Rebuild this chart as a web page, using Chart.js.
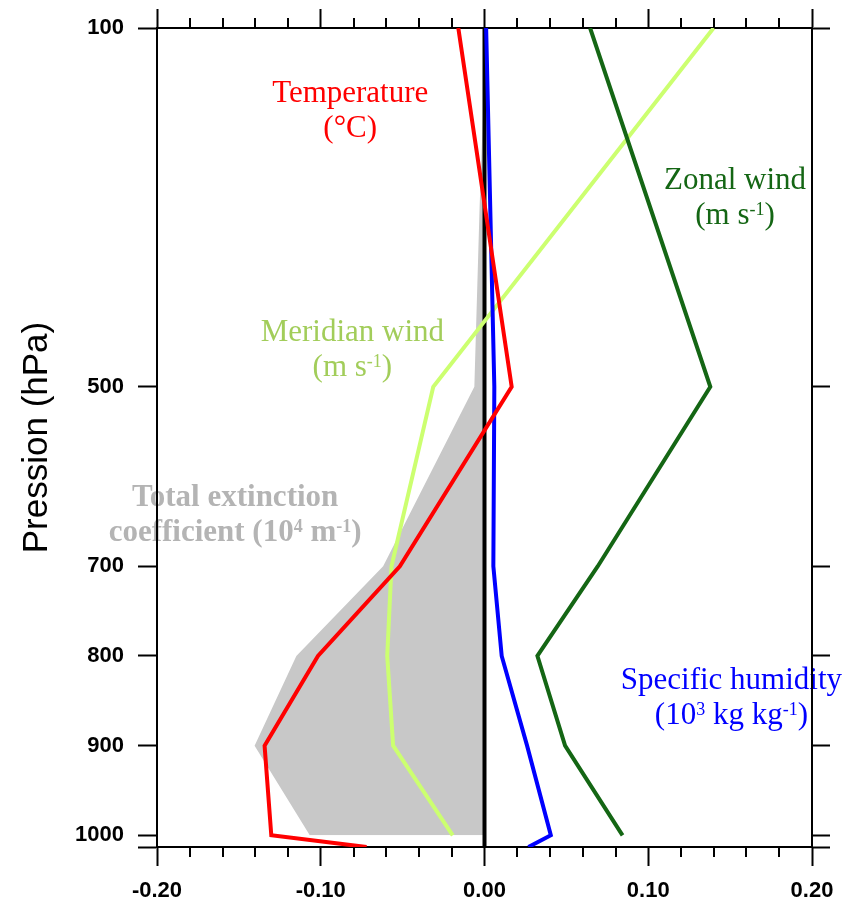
<!DOCTYPE html>
<html>
<head>
<meta charset="utf-8">
<script src="https://cdn.jsdelivr.net/npm/chart.js@4.4.0/dist/chart.umd.min.js"></script>
<style>
  html, body { margin: 0; padding: 0; background: #fff; }
  #chart { display: block; }
</style>
</head>
<body>
<canvas id="chart" width="853" height="903"></canvas>
<script>
// pressure levels (hPa)
const levels = [100, 500, 700, 800, 900, 1000, 1013];
const windLevels = [100, 500, 700, 800, 900, 1000];
const extLevels = [100, 200, 300, 500, 700, 800, 900, 1000];
const refLevels = [100, 1013];

// profiles (anomalies)
const temperature = [-0.0160, 0.0166, -0.0517, -0.1017, -0.1343, -0.1302, -0.0720];
const humidity = [0.0010, 0.0060, 0.0054, 0.0105, 0.0260, 0.0405, 0.0268];
const zonalWind = [0.0645, 0.1379, 0.0692, 0.0323, 0.0492, 0.0843];
const meridianWind = [0.1399, -0.0313, -0.0568, -0.0594, -0.0558, -0.0194];
const extinction = [0.0000, -0.0010, -0.0030, -0.0062, -0.0619, -0.1149, -0.1404, -0.1067];
const refLine = [0, 0];

// axis ticks
const xTicks = [-0.2, -0.1, 0, 0.1, 0.2];
const xMinorTicks = [-0.18, -0.16, -0.14, -0.12, -0.08, -0.06, -0.04, -0.02,
                     0.02, 0.04, 0.06, 0.08, 0.12, 0.14, 0.16, 0.18];
const pTicks = [100, 500, 700, 800, 900, 1000, 1013];
const pTickLabels = ['100', '500', '700', '800', '900', '1000', ''];

const pairs = (ps, vals) => ps.map((p, i) => ({ x: vals[i], y: p }));

// curve labels: anchor in data units, each line is a list of [text, superscript]
const notes = [
  { x: -0.082, p: 182, color: '#ff0000', bold: false,
    lines: [[['Temperature', false]], [['(°C)', false]]] },
  { x: 0.153, p: 280, color: '#146614', bold: false,
    lines: [[['Zonal wind', false]], [['(m s', false], ['-1', true], [')', false]]] },
  { x: -0.0807, p: 449, color: '#a2cd5a', bold: false,
    lines: [[['Meridian wind', false]], [['(m s', false], ['-1', true], [')', false]]] },
  { x: -0.1523, p: 633, color: '#b4b4b4', bold: true,
    lines: [[['Total extinction', false]], [['coefficient (10', false], ['4', true], [' m', false], ['-1', true], [')', false]]] },
  { x: 0.1508, p: 837, color: '#0000ff', bold: false,
    lines: [[['Specific humidity', false]], [['(10', false], ['3', true], [' kg kg', false], ['-1', true], [')', false]]] }
];

const notesPlugin = {
  id: 'notes',
  beforeDraw(chart) {
    const { ctx, scales: { x, y } } = chart;
    ctx.save();
    ctx.fillStyle = '#fff';
    ctx.fillRect(0, 0, chart.width, chart.height);
    ctx.textAlign = 'left';
    ctx.textBaseline = 'alphabetic';
    notes.forEach(n => {
      const cx = x.getPixelForValue(n.x);
      let by = y.getPixelForValue(n.p);
      const w = n.bold ? 'bold ' : '';
      const big = w + '31px "Liberation Serif"';
      const small = w + '18px "Liberation Serif"';
      n.lines.forEach(line => {
        let total = 0;
        line.forEach(([t, sup]) => {
          ctx.font = sup ? small : big;
          total += ctx.measureText(t).width;
        });
        let px = cx - total / 2;
        ctx.fillStyle = n.color;
        line.forEach(([t, sup]) => {
          ctx.font = sup ? small : big;
          ctx.fillText(t, px, sup ? by - 9 : by);
          px += ctx.measureText(t).width;
        });
        by += 35;
      });
    });
    ctx.restore();
  }
};

// minor ticks on bottom and top axes
const minorTicksPlugin = {
  id: 'minorTicks',
  afterDraw(chart) {
    const { ctx, chartArea: a, scales: { x } } = chart;
    ctx.save();
    ctx.strokeStyle = '#000';
    ctx.lineWidth = 2;
    ctx.beginPath();
    xMinorTicks.forEach(v => {
      const px = Math.round(x.getPixelForValue(v));
      ctx.moveTo(px, a.bottom);
      ctx.lineTo(px, a.bottom + 10);
      ctx.moveTo(px, a.top);
      ctx.lineTo(px, a.top - 10);
    });
    ctx.stroke();
    ctx.restore();
  }
};

const tickFont = { family: '"Liberation Sans", Arial, sans-serif', size: 22, weight: 'bold' };
const gridOpts = (len) => ({ drawOnChartArea: false, drawTicks: true, tickLength: len, tickWidth: 2, tickColor: '#000', color: '#000' });
const borderOpts = { display: true, color: '#000', width: 2 };

new Chart(document.getElementById('chart'), {
  type: 'line',
  data: {
    datasets: [
      { label: 'Temperature', data: pairs(levels, temperature), borderColor: '#ff0000', borderWidth: 4, order: 1 },
      { label: 'Specific humidity', data: pairs(levels, humidity), borderColor: '#0000ff', borderWidth: 4, order: 2 },
      { label: 'Zonal wind', data: pairs(windLevels, zonalWind), borderColor: '#146614', borderWidth: 4, order: 3 },
      { label: 'Meridian wind', data: pairs(windLevels, meridianWind), borderColor: '#ccff70', borderWidth: 4, order: 4 },
      { label: 'zero', data: pairs(refLevels, refLine), borderColor: '#000', borderWidth: 4, order: 5 },
      { label: 'Total extinction coefficient', data: pairs(extLevels, extinction),
        borderWidth: 0, borderColor: 'rgba(0,0,0,0)', backgroundColor: '#c8c8c8', fill: 'origin', order: 6 }
    ]
  },
  options: {
    responsive: false,
    animation: false,
    devicePixelRatio: 1,
    indexAxis: 'y',
    layout: { padding: 0 },
    elements: {
      point: { radius: 0 },
      line: { tension: 0, borderJoinStyle: 'miter', fill: false }
    },
    plugins: { legend: { display: false }, tooltip: { enabled: false } },
    scales: {
      x: {
        type: 'linear', position: 'bottom', min: -0.2, max: 0.2,
        afterBuildTicks: s => { s.ticks = xTicks.map(v => ({ value: v })); },
        afterFit: s => { s.height = 56; },
        ticks: { callback: v => v.toFixed(2), font: tickFont, color: '#000', padding: 12, maxRotation: 0, autoSkip: false },
        grid: gridOpts(19),
        border: borderOpts
      },
      xTop: {
        type: 'linear', position: 'top', min: -0.2, max: 0.2,
        afterBuildTicks: s => { s.ticks = xTicks.map(v => ({ value: v })); },
        afterFit: s => { s.height = 28; },
        ticks: { display: false },
        grid: gridOpts(19),
        border: borderOpts
      },
      y: {
        type: 'linear', position: 'left', reverse: true, min: 100, max: 1013,
        afterBuildTicks: s => { s.ticks = pTicks.map(v => ({ value: v })); },
        afterFit: s => { s.width = 157; },
        ticks: { callback: (v, i) => pTickLabels[i], font: tickFont, color: '#000', padding: 14, autoSkip: false },
        grid: gridOpts(19),
        border: borderOpts,
        title: {
          display: true, text: 'Pression (hPa)', color: '#000',
          font: { family: '"Liberation Sans", Arial, sans-serif', size: 35 },
          padding: { top: 16, bottom: 0 }
        }
      },
      yRight: {
        type: 'linear', position: 'right', reverse: true, min: 100, max: 1013,
        afterBuildTicks: s => { s.ticks = pTicks.map(v => ({ value: v })); },
        afterFit: s => { s.width = 41; },
        ticks: { display: false },
        grid: gridOpts(18),
        border: borderOpts
      }
    }
  },
  plugins: [notesPlugin, minorTicksPlugin]
});
</script>
</body>
</html>
